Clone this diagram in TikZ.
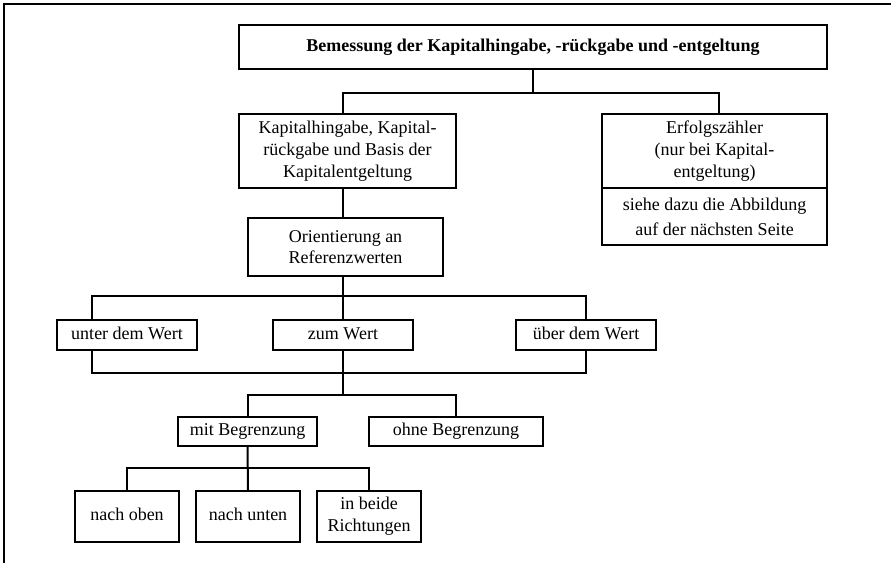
\documentclass[tikz,border=0pt]{standalone}
\usepackage{fontspec}
\setmainfont{Liberation Serif}
\begin{document}
\begin{tikzpicture}[x=1pt,y=-1pt,
  box/.style={draw, line width=2.2pt, inner sep=0pt, align=center,
    font=\fontsize{18}{21.7}\selectfont},
  onebox/.style={box, text height=12.5pt, text depth=4pt},
  conn/.style={line width=2pt},
  framestyle/.style={line width=1.6pt}]
\useasboundingbox (0,0) rectangle (891,563);
\draw[framestyle] (4,563) -- (4,4) -- (891,4);

\node[onebox, minimum width=588, minimum height=44, font=\fontsize{18}{21.7}\selectfont\bfseries] (top) at (533,47)
  {Bemessung der Kapitalhingabe, -rückgabe und -entgeltung};
\node[box, minimum width=217, minimum height=74] (kap) at (347.5,151)
  {Kapitalhingabe, Kapital-\\rückgabe und Basis der\\Kapitalentgeltung};
\node[box, minimum width=225, minimum height=74] (erf) at (714.5,151)
  {Erfolgszähler\\(nur bei Kapital-\\entgeltung)};
\node[box, minimum width=225, minimum height=57, font=\fontsize{18}{25}\selectfont] (erf2) at (714.5,216.5)
  {siehe dazu die Abbildung\\auf der nächsten Seite};
\node[box, minimum width=195, minimum height=58] (ori) at (345.5,247)
  {Orientierung an\\Referenzwerten};
\node[onebox, minimum width=140, minimum height=30] (unter) at (127,335) {unter dem Wert};
\node[onebox, minimum width=140, minimum height=30] (zum) at (343,335) {zum Wert};
\node[onebox, minimum width=140, minimum height=30] (ueber) at (586,335) {über dem Wert};
\node[onebox, minimum width=139, minimum height=29] (mit) at (247.5,431.5) {mit Begrenzung};
\node[onebox, minimum width=174, minimum height=29] (ohne) at (456,431.5) {ohne Begrenzung};
\node[onebox, minimum width=104, minimum height=51] (oben) at (127,516.5) {nach oben};
\node[onebox, minimum width=104, minimum height=51] (unten) at (248,516.5) {nach unten};
\node[box, minimum width=104, minimum height=51] (beide) at (369,516.5) {in beide\\Richtungen};

% connectors
\draw[conn] (top.south) -- ++(0,23) coordinate (t1);
\draw[conn] ([xshift=-4.5pt]kap.north) |- (t1) -| ([xshift=4.5pt]erf.north);
\draw[conn] ([xshift=-4.5pt]kap.south) -- ([xshift=-2.5pt]ori.north);
\draw[conn] ([xshift=-2.5pt]ori.south) -- (zum.north);
\draw[conn] ([xshift=-35pt]unter.north) |- ([yshift=23pt]zum.north) -| (ueber.north);
\draw[conn] ([xshift=-35pt]unter.south) |- ([yshift=-22pt]zum.south) -| (ueber.south);
\draw[conn] (zum.south) -- ++(0,44) coordinate (t2);
\draw[conn] (mit.north) |- (t2) -| (ohne.north);
\draw[conn] (mit.south) -- (unten.north);
\draw[conn] (oben.north) |- ([yshift=22pt]unten.north) -| (beide.north);
\end{tikzpicture}
\end{document}
